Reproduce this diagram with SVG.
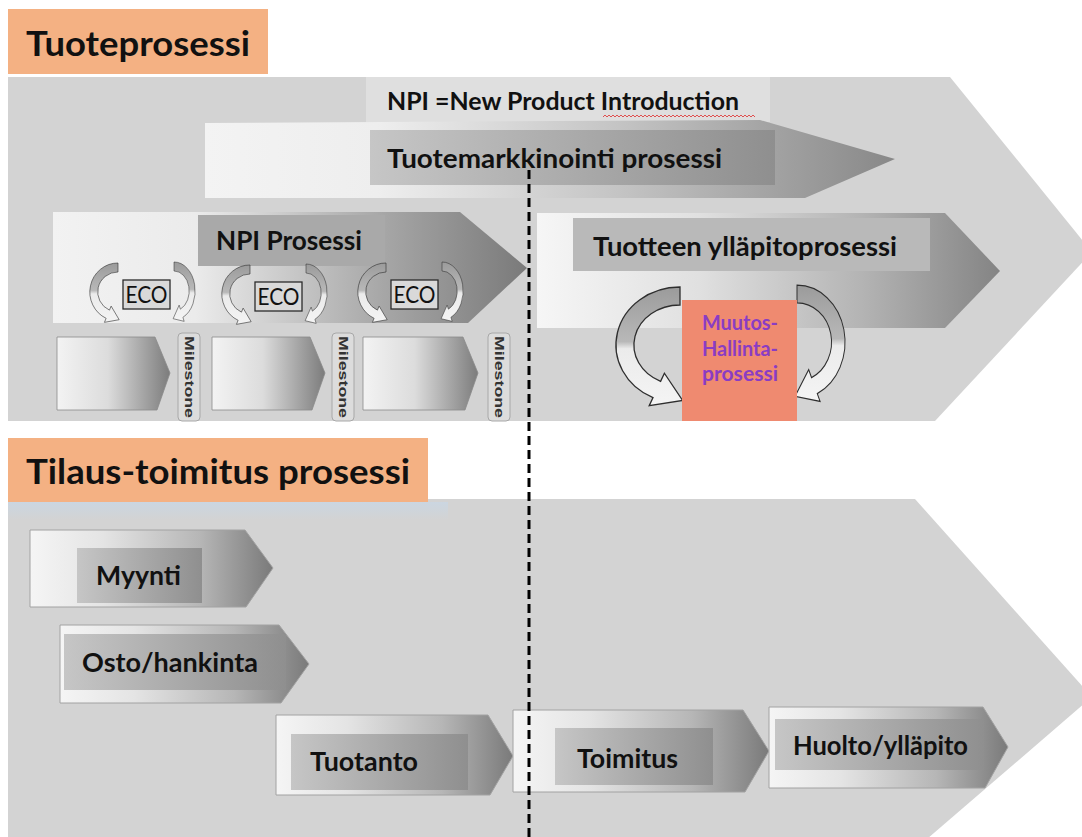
<svg xmlns="http://www.w3.org/2000/svg" width="1082" height="837" viewBox="0 0 1082 837">
  <style>
    .title { font-family: Lato, "Open Sans", "Liberation Sans", sans-serif; font-weight: 700; font-size: 35px; fill: #111; }
    .lbl { font-family: Lato, "Open Sans", "Liberation Sans", sans-serif; font-weight: 700; font-size: 26px; fill: #111; }
    .note { font-family: Lato, "Open Sans", "Liberation Sans", sans-serif; font-weight: 700; font-size: 24px; fill: #111; }
    .eco { font-family: Lato, "Liberation Sans", sans-serif; font-weight: 400; font-size: 24px; fill: #111; }
    .mile { font-family: "Liberation Sans", Arial, sans-serif; font-weight: 700; font-size: 13px; fill: #333; }
    .muutos { font-family: Lato, "Open Sans", "Liberation Sans", sans-serif; font-weight: 700; font-size: 21px; fill: #8a3cc4; }
    .band { fill: #d3d3d3; }
    .head { fill: #f4b183; }
    .step { fill: url(#gStep); stroke: #a2a2a2; stroke-width: 1; }
    .steplbl { fill: url(#gLabel); }
    .ecobox { fill: #d9d9d9; stroke: #2b2b2b; stroke-width: 1.3; }
    .loop { fill: url(#gLoop); stroke: #2e2e2e; stroke-width: 1.3; vector-effect: non-scaling-stroke; }
    .tab { fill: #dcdcdc; stroke: #a8a8a8; stroke-width: 1; }
    .mstone { fill: url(#gMile); stroke: #8a8a8a; stroke-width: 0.8; }
  </style>
  <defs>
    <linearGradient id="gStep" x1="0" y1="0" x2="1" y2="0">
      <stop offset="0" stop-color="#f5f5f5"/>
      <stop offset="0.3" stop-color="#e4e4e4"/>
      <stop offset="0.7" stop-color="#b6b6b6"/>
      <stop offset="1" stop-color="#7a7a7a"/>
    </linearGradient>
    <linearGradient id="gLabel" x1="0" y1="0" x2="1" y2="0">
      <stop offset="0" stop-color="#c6c6c6"/>
      <stop offset="1" stop-color="#8f8f8f"/>
    </linearGradient>
    <linearGradient id="gMarket" x1="0" y1="0" x2="1" y2="0">
      <stop offset="0" stop-color="#f3f3f3"/>
      <stop offset="0.25" stop-color="#eeeeee"/>
      <stop offset="0.6" stop-color="#c4c4c4"/>
      <stop offset="1" stop-color="#888888"/>
    </linearGradient>
    <linearGradient id="gNpi" x1="0" y1="0" x2="1" y2="0">
      <stop offset="0" stop-color="#f2f2f2"/>
      <stop offset="0.3" stop-color="#ebebeb"/>
      <stop offset="0.7" stop-color="#a6a6a6"/>
      <stop offset="1" stop-color="#7a7a7a"/>
    </linearGradient>
    <linearGradient id="gMaint" x1="0" y1="0" x2="1" y2="0">
      <stop offset="0" stop-color="#f6f6f6"/>
      <stop offset="0.35" stop-color="#e0e0e0"/>
      <stop offset="0.7" stop-color="#b4b4b4"/>
      <stop offset="1" stop-color="#848484"/>
    </linearGradient>
    <linearGradient id="gMile" x1="0" y1="0" x2="1" y2="0">
      <stop offset="0" stop-color="#f3f3f3"/>
      <stop offset="0.45" stop-color="#dcdcdc"/>
      <stop offset="1" stop-color="#7c7c7c"/>
    </linearGradient>
    <linearGradient id="gLoop" x1="0" y1="0" x2="0" y2="1">
      <stop offset="0" stop-color="#9b9b9b"/>
      <stop offset="0.46" stop-color="#b8b8b8"/>
      <stop offset="0.52" stop-color="#ebebeb"/>
      <stop offset="1" stop-color="#f4f4f4"/>
    </linearGradient>
    <linearGradient id="gFade" x1="0" y1="0" x2="0" y2="1">
      <stop offset="0" stop-color="#cbd6e1"/>
      <stop offset="1" stop-color="#d3d3d3"/>
    </linearGradient>
    <!-- curved loop arrow, centred on its ring; mirrored / scaled where used -->
    <path id="loopArrow" d="M0,-58 A64,58 0 0 0 -27,52.6 L-30.8,60.7 L2.6,55.4 L-15.6,28.2 L-19.4,36.3 A46,40 0 0 1 0,-40 Z"/>
  </defs>

  <!-- background process bands -->
  <g id="band-product">
    <polygon class="band" points="8,77 950,77 1092,252 935,421 8,421"/>
    <rect x="366" y="77" width="404" height="45" fill="#dfdfdf"/>
  </g>
  <g id="band-order">
    <polygon class="band" points="8,499 915,499 1092,697 920,845 8,845"/>
    <rect x="8" y="502" width="440" height="18" fill="url(#gFade)"/>
  </g>

  <!-- section headings -->
  <g id="title-tuoteprosessi">
    <rect class="head" x="8" y="9" width="260" height="65"/>
    <text class="title" x="26" y="56" textLength="224" lengthAdjust="spacingAndGlyphs">Tuoteprosessi</text>
  </g>
  <g id="title-tilaus-toimitus">
    <rect class="head" x="8" y="438" width="420" height="64"/>
    <text class="title" x="26" y="484" textLength="384" lengthAdjust="spacingAndGlyphs">Tilaus-toimitus prosessi</text>
  </g>

  <!-- NPI definition -->
  <g id="npi-definition">
    <text class="note" x="387" y="110" textLength="352" lengthAdjust="spacingAndGlyphs">NPI =New Product Introduction</text>
    <path d="M603,117 l2,-2 2,2 2,-2 2,2 2,-2 2,2 2,-2 2,2 2,-2 2,2 2,-2 2,2 2,-2 2,2 2,-2 2,2 2,-2 2,2 2,-2 2,2 2,-2 2,2 2,-2 2,2 2,-2 2,2 2,-2 2,2 2,-2 2,2 2,-2 2,2 2,-2 2,2 2,-2 2,2 2,-2 2,2 2,-2 2,2 2,-2 2,2 2,-2 2,2 2,-2 2,2 2,-2 2,2 2,-2 2,2 2,-2 2,2 2,-2 2,2 2,-2 2,2 2,-2 2,2 2,-2 2,2 2,-2 2,2 2,-2 2,2 2,-2 2,2 2,-2 2,2 2,-2 2,2 2,-2 2,2 2,-2 2,2 2,-2 2,2" fill="none" stroke="#e04040" stroke-width="0.9"/>
  </g>

  <!-- product marketing process -->
  <g id="tuotemarkkinointi">
    <polygon points="205,123 760,120 895,159 805,198 205,198" fill="url(#gMarket)"/>
    <rect x="370" y="130" width="405" height="55" fill="url(#gLabel)"/>
    <text class="lbl" x="387" y="168" textLength="335" lengthAdjust="spacingAndGlyphs">Tuotemarkkinointi prosessi</text>
  </g>

  <!-- NPI process -->
  <g id="npi-prosessi">
    <polygon points="53,212 460,212 527,268 468,323 53,323" fill="url(#gNpi)"/>
    <rect x="198" y="215" width="187" height="51" fill="#a9a9a9"/>
    <text class="lbl" x="216" y="250" textLength="146" lengthAdjust="spacingAndGlyphs">NPI Prosessi</text>
  </g>

  <!-- engineering change orders -->
  <g id="eco-1">
    <rect class="ecobox" x="123" y="280" width="47" height="29"/>
    <text class="eco" x="146.5" y="303" text-anchor="middle" textLength="42" lengthAdjust="spacingAndGlyphs">ECO</text>
  </g>
  <g id="eco-2">
    <rect class="ecobox" x="255" y="282" width="47" height="29"/>
    <text class="eco" x="278.5" y="305" text-anchor="middle" textLength="42" lengthAdjust="spacingAndGlyphs">ECO</text>
  </g>
  <g id="eco-3">
    <rect class="ecobox" x="391" y="280" width="47" height="29"/>
    <text class="eco" x="414.5" y="303" text-anchor="middle" textLength="42" lengthAdjust="spacingAndGlyphs">ECO</text>
  </g>

  <!-- milestone phases -->
  <g id="phase-1">
    <polygon class="mstone" points="57,337 155,337 170,373 157,410 57,410"/>
    <rect class="tab" x="178" y="333" width="22" height="88" rx="4"/>
    <text class="mile" transform="translate(189,377) rotate(90)" text-anchor="middle" dominant-baseline="central" textLength="82" lengthAdjust="spacingAndGlyphs">Milestone</text>
  </g>
  <g id="phase-2">
    <polygon class="mstone" points="212,337 310,337 325,373 312,410 212,410"/>
    <rect class="tab" x="332" y="333" width="22" height="88" rx="4"/>
    <text class="mile" transform="translate(343,377) rotate(90)" text-anchor="middle" dominant-baseline="central" textLength="82" lengthAdjust="spacingAndGlyphs">Milestone</text>
  </g>
  <g id="phase-3">
    <polygon class="mstone" points="363,337 463,337 478,373 465,410 363,410"/>
    <rect class="tab" x="488" y="333" width="22" height="88" rx="4"/>
    <text class="mile" transform="translate(499,377) rotate(90)" text-anchor="middle" dominant-baseline="central" textLength="82" lengthAdjust="spacingAndGlyphs">Milestone</text>
  </g>

  <!-- product maintenance process -->
  <g id="tuotteen-yllapito">
    <polygon points="537,213 945,213 1000,271 945,328 537,328" fill="url(#gMaint)"/>
    <rect x="573" y="218" width="357" height="53" fill="#b9b9b9"/>
    <text class="lbl" x="593" y="256" textLength="304" lengthAdjust="spacingAndGlyphs">Tuotteen ylläpitoprosessi</text>
  </g>

  <!-- loop arrows and separator -->
  <g id="connectors">
    <use href="#loopArrow" class="loop" transform="translate(118,292) scale(0.44,0.5)"/>
    <use href="#loopArrow" class="loop" transform="translate(174,291) scale(-0.33,0.5)"/>
    <use href="#loopArrow" class="loop" transform="translate(250,294) scale(0.44,0.5)"/>
    <use href="#loopArrow" class="loop" transform="translate(306,293) scale(-0.33,0.5)"/>
    <use href="#loopArrow" class="loop" transform="translate(386,292) scale(0.44,0.5)"/>
    <use href="#loopArrow" class="loop" transform="translate(442,291) scale(-0.33,0.5)"/>
    <use href="#loopArrow" class="loop" transform="translate(680,345)"/>
    <use href="#loopArrow" class="loop" transform="translate(797,342) scale(-0.75,0.98)"/>
  </g>

  <!-- change management -->
  <g id="muutoshallinta">
    <rect x="682" y="300" width="115" height="121" fill="#ef8a70"/>
    <text class="muutos" x="740" y="330" text-anchor="middle" textLength="76" lengthAdjust="spacingAndGlyphs">Muutos-</text>
    <text class="muutos" x="740" y="356" text-anchor="middle" textLength="76" lengthAdjust="spacingAndGlyphs">Hallinta-</text>
    <text class="muutos" x="740" y="381" text-anchor="middle" textLength="76" lengthAdjust="spacingAndGlyphs">prosessi</text>
  </g>

  <!-- order-delivery steps -->
  <g id="myynti">
    <polygon class="step" points="30,530 245,530 273,568 246,607 30,607"/>
    <rect class="steplbl" x="77" y="548" width="125" height="55"/>
    <text class="lbl" x="96" y="585" textLength="85" lengthAdjust="spacingAndGlyphs">Myynti</text>
  </g>
  <g id="osto-hankinta">
    <polygon class="step" points="60,625 279,625 309,664 281,703 60,703"/>
    <rect class="steplbl" x="64" y="634" width="222" height="56"/>
    <text class="lbl" x="82" y="672" textLength="176" lengthAdjust="spacingAndGlyphs">Osto/hankinta</text>
  </g>
  <g id="tuotanto">
    <polygon class="step" points="276,715 488,715 513,756 490,795 276,795"/>
    <rect class="steplbl" x="291" y="734" width="177" height="56"/>
    <text class="lbl" x="310" y="771" textLength="108" lengthAdjust="spacingAndGlyphs">Tuotanto</text>
  </g>
  <g id="toimitus">
    <polygon class="step" points="513,710 743,710 769,751 745,792 513,792"/>
    <rect class="steplbl" x="555" y="728" width="158" height="57"/>
    <text class="lbl" x="577" y="768" textLength="101" lengthAdjust="spacingAndGlyphs">Toimitus</text>
  </g>
  <g id="huolto-yllapito">
    <polygon class="step" points="769,707 983,707 1008,747 985,788 769,788"/>
    <rect class="steplbl" x="775" y="719" width="209" height="51"/>
    <text class="lbl" x="793" y="755" textLength="175" lengthAdjust="spacingAndGlyphs">Huolto/ylläpito</text>
  </g>

  <!-- phase boundary -->
  <g id="separator">
    <line x1="529" y1="170" x2="529" y2="837" stroke="#000" stroke-width="3" stroke-dasharray="9 5"/>
  </g>
</svg>
